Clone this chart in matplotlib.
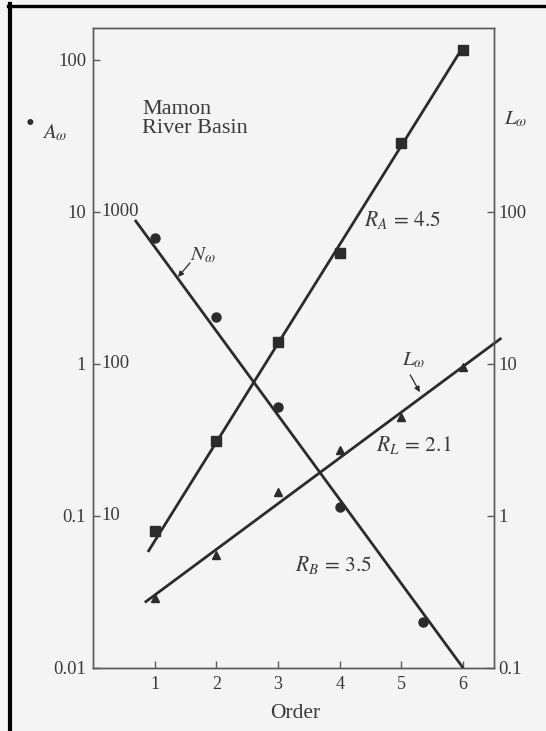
import matplotlib
matplotlib.use("Agg")
import matplotlib.pyplot as plt
from matplotlib.lines import Line2D
from matplotlib.transforms import blended_transform_factory

plt.rcParams["font.family"] = ["Liberation Serif", "DejaVu Serif"]
plt.rcParams["mathtext.fontset"] = "stix"

# Mamon 流域: 阶数 vs 面积 / 数量 / 长度
order = [1, 2, 3, 4, 5, 6]
area = [0.080, 0.31, 1.40, 5.4, 28.4, 116]        # A_w (左轴)
num_order = [1, 2, 3, 4, 5.35]
number = [675, 204, 52, 11.5, 2.0]                 # N_w (左轴内侧刻度)
length = [0.29, 0.55, 1.44, 2.7, 4.5, 9.5]         # L_w (右轴)

# 拟合直线的两个端点
fit_a_x, fit_a_y = [0.89, 6.0], [0.058, 122]
fit_n_x, fit_n_y = [0.68, 6.0], [885, 1.0]
fit_l_x, fit_l_y = [0.84, 6.62], [0.27, 14.8]

left_ticks = [0.01, 0.1, 1, 10, 100]
left_labels = ["0.01", "0.1", "1", "10", "100"]
n_ticks = [10, 100, 1000]
right_ticks = [0.1, 1, 10, 100]
right_labels = ["0.1", "1", "10", "100"]

BG = "#f4f4f4"
INK = "#2b2b2b"
SPINE = "#5a5a5a"
TXT = "#3a3a3a"

fig = plt.figure(figsize=(5.46, 7.31), dpi=100, facecolor=BG)
ax = fig.add_axes([93 / 546, 1 - 668 / 731, 401 / 546, 640 / 731])
ax.set_facecolor(BG)
ax.set_yscale("log")
ax.set_xlim(0, 6.5)
ax.set_ylim(0.01, 162)

axL = ax.twinx()
axL.set_yscale("log")
axL.set_ylim(0.1, 1620)

axN = ax.twinx()
axN.set_yscale("log")
axN.set_ylim(1, 16200)
axN.axis("off")

for a in (ax, axL):
    for s in a.spines.values():
        s.set_color(SPINE)
        s.set_linewidth(1.0)
    a.minorticks_off()

ax.set_xticks(order)
ax.set_xticklabels([str(o) for o in order])
ax.tick_params(axis="x", direction="in", length=5, width=1, color=SPINE,
               labelsize=13, labelcolor=TXT, pad=6)
ax.yaxis.set_minor_locator(matplotlib.ticker.NullLocator())
ax.set_yticks(left_ticks)
ax.set_yticklabels(left_labels)
ax.tick_params(axis="y", direction="in", length=5, width=1, color=SPINE,
               labelsize=13.5, labelcolor=TXT, pad=5)

axL.yaxis.set_minor_locator(matplotlib.ticker.NullLocator())
axL.set_yticks(right_ticks)
axL.set_yticklabels(right_labels)
axL.tick_params(axis="y", direction="in", length=5, width=1, color=SPINE,
                labelsize=13.5, labelcolor=TXT, pad=3)

# N_w 刻度标签写在左轴内侧
trN = blended_transform_factory(ax.transAxes, axN.transData)
for t in n_ticks:
    ax.text(0.020, t, str(t), transform=trN, ha="left", va="center",
            fontsize=13.5, color=TXT)

# 拟合线
ax.plot(fit_a_x, fit_a_y, color=INK, lw=2.0, solid_capstyle="butt")
axN.plot(fit_n_x, fit_n_y, color=INK, lw=2.0, solid_capstyle="butt")
axL.plot(fit_l_x, fit_l_y, color=INK, lw=2.0, solid_capstyle="butt", clip_on=False)

# 数据点
ax.plot(order, area, "s", color=INK, ms=6.5, clip_on=False)
axN.plot(num_order, number, "o", color=INK, ms=6.5, clip_on=False)
axL.plot(order, length, "^", color=INK, ms=6, clip_on=False)

# 注释文字
ax.text(0.122, 0.858, "Mamon\nRiver Basin", transform=ax.transAxes,
        ha="left", va="center", fontsize=16, color=TXT, linespacing=1.0)

ax.text(0.274, 0.645, r"$N_\omega$", transform=ax.transAxes,
        ha="center", va="center", fontsize=15, color=TXT)
ax.annotate("", xy=(0.212, 0.611), xytext=(0.242, 0.633),
            xycoords="axes fraction", textcoords="axes fraction",
            arrowprops=dict(arrowstyle="-|>", color=INK, lw=0.9,
                            mutation_scale=8, shrinkA=0, shrinkB=0))

ax.text(0.800, 0.480, r"$L_\omega$", transform=ax.transAxes,
        ha="center", va="center", fontsize=15, color=TXT)
ax.annotate("", xy=(0.815, 0.431), xytext=(0.791, 0.458),
            xycoords="axes fraction", textcoords="axes fraction",
            arrowprops=dict(arrowstyle="-|>", color=INK, lw=0.9,
                            mutation_scale=8, shrinkA=0, shrinkB=0))

ax.text(0.771, 0.700, r"$R_A\,=\,4.5$", transform=ax.transAxes,
        ha="center", va="center", fontsize=15.5, color=TXT)
ax.text(0.800, 0.348, r"$R_L\,=\,2.1$", transform=ax.transAxes,
        ha="center", va="center", fontsize=15.5, color=TXT)
ax.text(0.601, 0.161, r"$R_B\,=\,3.5$", transform=ax.transAxes,
        ha="center", va="center", fontsize=15.5, color=TXT)

# 轴标签
fig.text(0.945, 0.836, r"$L_\omega$", ha="center", va="center", fontsize=15, color=TXT)
fig.text(0.055, 0.829, "\u2022", ha="center", va="center", fontsize=18, color=INK)
fig.text(0.101, 0.818, r"$A_\omega$", ha="center", va="center", fontsize=15, color=TXT)
fig.text(0.540, 0.024, "Order", ha="center", va="center", fontsize=15.5, color=TXT)

# 扫描图的黑色边框（左、上）
fig.add_artist(Line2D([10 / 546, 10 / 546], [0, 1 - 4 / 731], transform=fig.transFigure,
                      color="black", lw=3.0))
fig.add_artist(Line2D([8 / 546, 1], [1 - 5.5 / 731, 1 - 5.5 / 731], transform=fig.transFigure,
                      color="black", lw=2.4))

fig.savefig("out.png", dpi=100, facecolor=BG)
